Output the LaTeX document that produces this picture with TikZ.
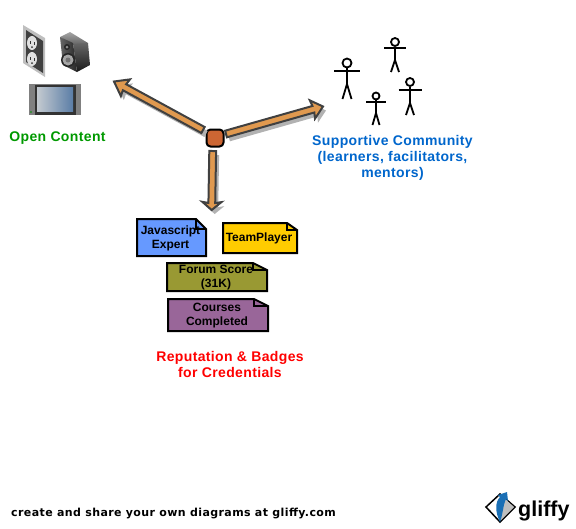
\documentclass[tikz,border=0pt]{standalone}
\usepackage{fontspec}
\setmainfont{Liberation Sans}
\newfontfamily\spacedfont[LetterSpace=2.6]{Liberation Sans}
\newfontfamily\footfont[LetterSpace=3.8]{DejaVu Sans}
\usetikzlibrary{calc}
\definecolor{openGreen}{HTML}{009900}
\definecolor{commBlue}{HTML}{0066CC}
\definecolor{badgeBlue}{HTML}{6699FF}
\definecolor{badgeYellow}{HTML}{FFCC00}
\definecolor{badgeOlive}{HTML}{999933}
\definecolor{badgePurple}{HTML}{996699}
\definecolor{arrowOrange}{HTML}{E0994F}
\definecolor{knobOrange}{HTML}{CC6633}
\definecolor{logoBlue}{HTML}{1A6FB5}
\definecolor{screenLeft}{HTML}{C4CAD0}
\definecolor{screenRight}{HTML}{5A7DA6}
\tikzset{
  caption/.style={font=\spacedfont\bfseries\fontsize{14}{15.7}\selectfont, align=center},
  badgetext/.style={font=\bfseries\fontsize{12}{14}\selectfont, align=center, inner sep=0pt},
  badgeline/.style={draw=black, line width=2pt, line join=miter},
  fatshadow/.style={fill=black!30, draw=none, transform canvas={shift={(3,4)}}},
  fatrim/.style={fill=arrowOrange, draw=black!75, line width=2pt, line join=miter},
  stick/.style={draw=black, line width=1.8pt},
}
% one folded note: corners, fold, then text
\newcommand{\badgenote}[9]{%
  \draw[badgeline, fill=#5] (#1,#2) -- (#6,#2) -- (#3,#7) -- (#3,#4) -- (#1,#4) -- cycle;
  \draw[draw=black, line width=1.4pt] (#6,#2) -- (#6,#7) -- (#3,#7);
  \node[badgetext] (#8) at ({(#1+#3)/2-1},{(#2+#4)/2+0.5}) {#9};
}
% fat arrow: style, from, to, how far back the barbs sit
\newcommand{\fatarrow}[4]{%
  \coordinate (neck) at ($(#3)!#4pt-1pt!(#2)$);
  \coordinate (barb) at ($(#3)!#4pt!(#2)$);
  \path[#1] ($(#2)!3.4pt!90:(#3)$) -- ($(neck)!3.4pt!-90:(#2)$) -- ($(barb)!9.5pt!-90:(#2)$)
    -- (#3) -- ($(barb)!9.5pt!90:(#2)$) -- ($(neck)!3.4pt!90:(#2)$) -- ($(#2)!3.4pt!-90:(#3)$) -- cycle;
}
\begin{document}
\begin{tikzpicture}[x=1pt,y=-1pt]
\useasboundingbox (0,0) rectangle (576,528);
% outlet
\fill[black!25] (23,25) -- (45,38) -- (45,77) -- (23,63) -- cycle;
\fill[black!75] (26,30) -- (43,41) -- (43,73) -- (26,62) -- cycle;
\fill[black!12] (32,43) ellipse (5 and 7);
\fill[black!12] (32,59) ellipse (5 and 7);
\fill[black!80] (30,41) rectangle (31,44);
\fill[black!80] (34,42) rectangle (35,45);
\fill[black!80] (32,47) circle (1);
\fill[black!80] (30,57) rectangle (31,60);
\fill[black!80] (34,58) rectangle (35,61);
\fill[black!80] (32,63) circle (1);
% speaker
\shade[top color=black!60, bottom color=black!90] (73,43) -- (88,43) -- (90,65) -- (77,72) -- cycle;
\shade[top color=black!35, bottom color=black!60] (60,37) -- (70,32) -- (88,43) -- (73,44) -- cycle;
\shade[left color=black!60, right color=black!85] (60,37) -- (73,43) -- (77,72) -- (63,65) -- cycle;
\fill[black!85] (68,60) circle (7);
\fill[black!35] (68,60) circle (5.5);
\fill[black!55] (68,60) circle (2.5);
\fill[black!85] (67,47) circle (3);
\fill[black!45] (67,47) circle (1.5);
% screen
\fill[black!50] (29,84) rectangle (81,115);
\fill[black!80] (35,85) rectangle (76,115);
\shade[left color=screenLeft, right color=screenRight] (37,87) rectangle (73,111);
\fill[green!60!black] (31,112) circle (0.8);
% arrows
\node[draw=black, line width=2pt, fill=knobOrange, rounded corners=4pt, minimum size=17pt, inner sep=0pt] (knob) at (215,138) {};
\coordinate (openTail) at (203,130);
\coordinate (openTip) at (114,81.5);
\coordinate (commTail) at (226,134);
\coordinate (commTip) at (323,106.5);
\coordinate (repTail) at (212.7,151);
\coordinate (repTip) at (211.7,210);
\fatarrow{fatshadow}{openTail}{openTip}{13}
\fatarrow{fatshadow}{commTail}{commTip}{11}
\fatarrow{fatshadow}{repTail}{repTip}{8}
\fatarrow{fatrim}{openTail}{openTip}{13}
\fatarrow{fatrim}{commTail}{commTip}{11}
\fatarrow{fatrim}{repTail}{repTip}{8}
% people
\foreach \hx/\hy/\hr/\ay/\aw/\py/\fy/\fw/\nm in {347/63/4.5/71/13/84/99/4.5/a, 395/42/4/48/11/60/72/4/b, 376/96/3.5/102/10/113/125/3.5/c, 410/82/4/90/11.5/103/115/4/d}{
  \node[circle, stick, minimum size=2*\hr pt, inner sep=0pt] (head\nm) at (\hx,\hy) {};
  \coordinate (hip\nm) at (\hx,\py);
  \draw[stick] (head\nm) -- (hip\nm);
  \draw[stick] (\hx-\aw,\ay) -- (\hx+\aw,\ay);
  \draw[stick] (\hx-\fw,\fy) -- (hip\nm) -- (\hx+\fw,\fy);
}
% badges
\badgenote{137}{219}{206}{256}{badgeBlue}{196}{229}{jsbadge}{Javascript\\Expert}
\badgenote{223}{223}{297}{253}{badgeYellow}{287}{230}{teambadge}{TeamPlayer}
\badgenote{167}{263}{267}{291}{badgeOlive}{253}{270}{forumbadge}{Forum Score\\(31K)}
\badgenote{168}{299}{268}{331}{badgePurple}{254}{306}{coursebadge}{Courses\\Completed}
% captions
\node[caption, text=openGreen] (opencap) at (57.5,138) {Open Content};
\node[caption, text=commBlue] (commcap) at (392.5,158) {Supportive Community\\(learners, facilitators,\\mentors)};
\node[caption, text=red] (repcap) at (230,364.5) {Reputation \& Badges\\for Credentials};
% footer
\node[font=\footfont\bfseries\fontsize{11}{13}\selectfont, anchor=west, inner sep=0pt] (foot) at (11,513.5) {create and share your own diagrams at gliffy.com};
% logo
\draw[draw=black, line width=1.5pt, fill=white] (486,507) -- (500,494) -- (515,507) -- (500,522) -- cycle;
\fill[black!25] (503,497) -- (514,507) -- (501,520) -- cycle;
\fill[logoBlue] (500,522) .. controls (495,512) and (495,502) .. (500,497) -- (498,495) -- (507,492) -- (508,501) -- (506,499) .. controls (503,505) and (503,514) .. (500,522) -- cycle;
\node[font=\bfseries\fontsize{21.5}{24}\selectfont, anchor=base west, inner sep=0pt] (logotext) at (518,516) {gliffy};
\end{tikzpicture}
\end{document}
